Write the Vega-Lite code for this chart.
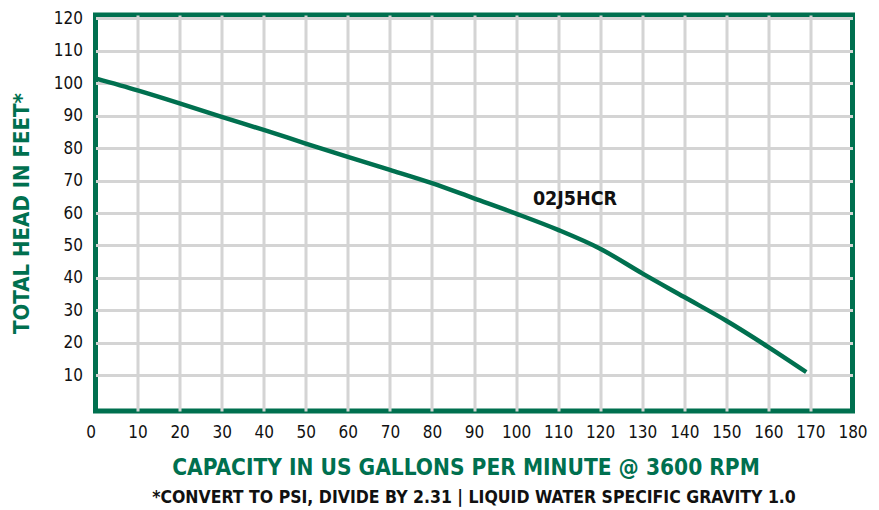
{
  "$schema": "https://vega.github.io/schema/vega-lite/v6.json",
  "autosize": "none",
  "width": 757,
  "height": 396,
  "padding": {"left": 95.5, "top": 15, "right": 26, "bottom": 99},
  "background": "white",
  "config": {
    "view": {"stroke": "#00704F", "strokeWidth": 5},
    "font": "DejaVu Sans Condensed, Liberation Sans",
    "axis": {"labelOverlap": false, "labelSeparation": 0}
  },
  "title": {
    "text": "*CONVERT TO PSI, DIVIDE BY 2.31  |  LIQUID WATER SPECIFIC GRAVITY 1.0",
    "orient": "bottom",
    "anchor": "middle",
    "font": "DejaVu Sans Condensed, Liberation Sans",
    "fontSize": 17.5,
    "fontWeight": "bold",
    "color": "#111111",
    "offset": 10
  },
  "encoding": {
    "x": {
      "field": "gpm", "type": "quantitative",
      "scale": {"domain": [0, 180], "nice": false, "zero": false},
      "axis": {
        "values": [0,10,20,30,40,50,60,70,80,90,100,110,120,130,140,150,160,170,180],
        "grid": true, "gridColor": "#d4d4d4", "gridWidth": 3,
        "gridOpacity": {"condition": {"test": "datum.value == 0 || datum.value == 180", "value": 0}, "value": 1},
        "domain": false, "ticks": false,
        "labelFlush": false, "labelOverlap": false,
        "labelAlign": {"condition": {"test": "datum.value == 0", "value": "right"}, "value": "center"},
        "labelFont": "DejaVu Sans Condensed, Liberation Sans", "labelFontSize": 17, "labelColor": "#111111",
        "labelPadding": 13,
        "title": "CAPACITY IN US GALLONS PER MINUTE @ 3600 RPM",
        "titleFont": "DejaVu Sans Condensed, Liberation Sans", "titleFontSize": 22.5, "titleFontWeight": "bold",
        "titleColor": "#00704F", "titlePadding": 16, "titleX": 370
      }
    },
    "y": {
      "field": "head", "type": "quantitative",
      "scale": {"domain": [-1, 121], "nice": false, "zero": false},
      "axis": {
        "values": [10,20,30,40,50,60,70,80,90,100,110,120],
        "grid": true, "gridColor": "#d4d4d4", "gridWidth": 3,
        "domain": false, "ticks": false,
        "labelOverlap": false,
        "labelFont": "DejaVu Sans Condensed, Liberation Sans", "labelFontSize": 17, "labelColor": "#111111",
        "labelPadding": 13,
        "title": "TOTAL HEAD IN FEET*",
        "titleFont": "DejaVu Sans Condensed, Liberation Sans", "titleFontSize": 22, "titleFontWeight": "bold",
        "titleColor": "#00704F", "titlePadding": 20
      }
    }
  },
  "layer": [
    {
      "data": {"values": [
        {"gpm": 0, "head": 101.5},
        {"gpm": 10, "head": 97.8},
        {"gpm": 20, "head": 93.8},
        {"gpm": 30, "head": 89.6},
        {"gpm": 40, "head": 85.6},
        {"gpm": 50, "head": 81.4},
        {"gpm": 60, "head": 77.3},
        {"gpm": 70, "head": 73.3},
        {"gpm": 80, "head": 69.2},
        {"gpm": 90, "head": 64.5},
        {"gpm": 100, "head": 59.8},
        {"gpm": 110, "head": 54.8},
        {"gpm": 120, "head": 49.0},
        {"gpm": 130, "head": 41.4},
        {"gpm": 140, "head": 34.1},
        {"gpm": 150, "head": 26.8},
        {"gpm": 160, "head": 18.7},
        {"gpm": 169, "head": 11.0}
      ]},
      "mark": {"type": "line", "color": "#00704F", "strokeWidth": 4.5, "interpolate": "monotone"}
    },
    {
      "data": {"values": [{"gpm": 104, "head": 64.3, "label": "02J5HCR"}]},
      "mark": {"type": "text", "align": "left", "baseline": "middle", "font": "DejaVu Sans Condensed, Liberation Sans", "fontSize": 19.5, "fontWeight": "bold", "color": "#111111"},
      "encoding": {
        "text": {"field": "label"}
      }
    }
  ]
}
